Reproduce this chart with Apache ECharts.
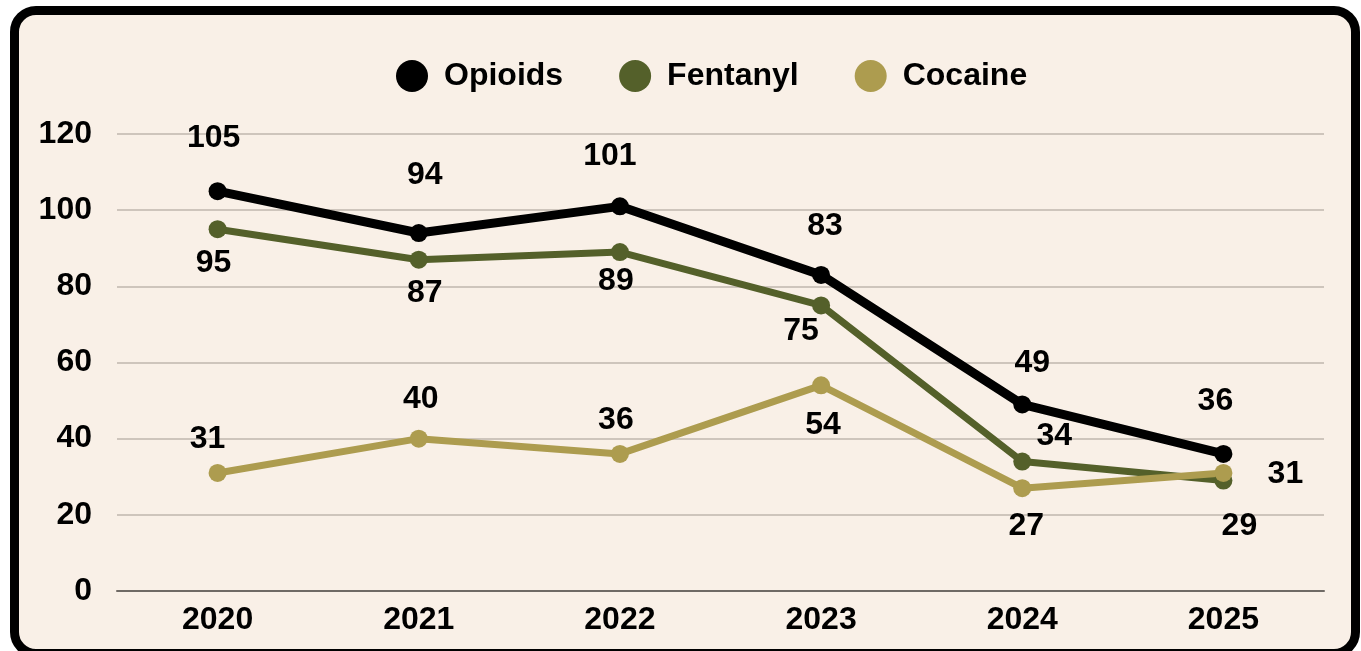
<!DOCTYPE html>
<html><head><meta charset="utf-8">
<script src="https://cdn.jsdelivr.net/npm/echarts@6/dist/echarts.min.js"></script>
<style>
html,body{margin:0;padding:0;width:1361px;height:651px;overflow:hidden;background:#fff;}
#frame{position:absolute;left:10px;top:6px;width:1350px;height:652px;box-sizing:border-box;border:9px solid #000;border-radius:26px;background:#f9f0e7;}
#chart{position:absolute;left:0;top:0;width:1361px;height:651px;}
</style></head>
<body><div id="frame"></div><div id="chart"></div>
<script>
const years = ['2020','2021','2022','2023','2024','2025'];
const opioids = [105, 94, 101, 83, 49, 36];
const fentanyl = [95, 87, 89, 75, 34, 29];
const cocaine = [31, 40, 36, 54, 27, 31];
const yTicks = [0, 20, 40, 60, 80, 100, 120];

// label offsets [dx, dy] relative to point (layout only)
const opLab = [[-4,-53],[6,-58],[-10,-50],[4,-49],[10,-41],[-8,-53]];
const feLab = [[-4,34],[6,33],[-4,29],[-20,26],[32,-25],[16,46]];
const coLab = [[-10,-34],[2,-39],[-4,-34],[2,40],[4,38],[62,1]];

const colors = {op:'#000000', fe:'#54602a', co:'#ad9c4f'};
const fontFam = '"Liberation Sans", Arial, sans-serif';

function mk(vals, offs){
  return vals.map((v,i)=>({value:v, label:{offset:offs[i]}}));
}
function series(name, vals, offs, color, width){
  return {
    name, type:'line', data: mk(vals, offs), symbol:'circle', symbolSize:18,
    lineStyle:{color, width}, itemStyle:{color},
    label:{show:true, position:'inside', color:'#000', fontSize:32, fontWeight:'bold', fontFamily:fontFam},
    emphasis:{disabled:true}, animation:false
  };
}
const chart = echarts.init(document.getElementById('chart'));
chart.setOption({
  animation:false,
  legend:{
    top:60, left:396, padding:0, itemWidth:32, itemHeight:32, itemGap:56, icon:'circle',
    textStyle:{fontSize:32, fontWeight:'bold', color:'#000', fontFamily:fontFam, padding:[0,0,0,11]},
    data:['Opioids','Fentanyl','Cocaine']
  },
  grid:{left:117, right:37, top:134, bottom:60},
  xAxis:{type:'category', data:years, boundaryGap:true,
    axisLine:{lineStyle:{color:'#6f6a65', width:2}}, axisTick:{show:false},
    axisLabel:{fontSize:32, fontWeight:'bold', color:'#000', fontFamily:fontFam, margin:13}},
  yAxis:{type:'value', min:yTicks[0], max:yTicks[yTicks.length-1], interval:20,
    axisLine:{show:false}, axisTick:{show:false},
    splitLine:{lineStyle:{color:'#bfb7ae', width:1.5}},
    axisLabel:{fontSize:32, fontWeight:'bold', color:'#000', fontFamily:fontFam, margin:25}},
  series:[
    series('Opioids', opioids, opLab, colors.op, 9),
    series('Fentanyl', fentanyl, feLab, colors.fe, 7),
    series('Cocaine', cocaine, coLab, colors.co, 7)
  ]
});
</script></body></html>
